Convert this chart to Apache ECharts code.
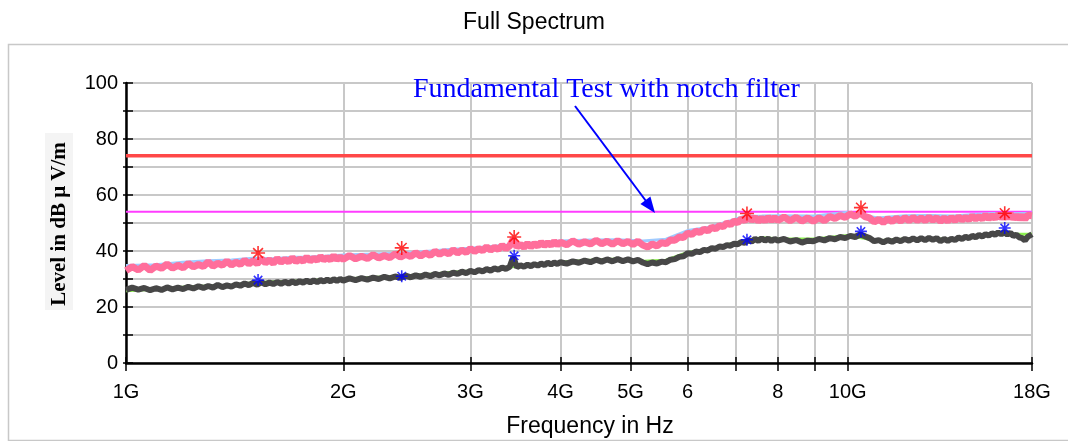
<!DOCTYPE html>
<html>
<head>
<meta charset="utf-8">
<script src="https://cdn.jsdelivr.net/npm/echarts@6/dist/echarts.min.js"></script>
<style>
  html, body { margin: 0; padding: 0; background: #ffffff; }
  #chart { width: 1068px; height: 441px; }
</style>
</head>
<body>
<div id="chart"></div>
<script>
// Sweep frequencies (MHz) of the measured traces
const freqMHz = [
  1000,1020,1040,1060,1080,1100,1120,1140,1160,1180,1200,1220,1240,1260,1280,1300,1320,1340,1360,1380,
  1400,1420,1440,1460,1480,1500,1520,1540,1560,1580,1600,1620,1640,1660,1680,1700,1720,1740,1760,1780,
  1800,1820,1840,1860,1880,1900,1920,1940,1960,1980,
  2000,2040,2080,2120,2160,2200,2240,2280,2320,2360,2400,2440,2480,2520,2560,2600,2640,2680,2720,2760,
  2800,2840,2880,2920,2960,3000,3040,3080,3120,3160,3200,3240,3280,3320,3360,3400,3440,3480,3520,3560,
  3600,3640,3680,3720,3760,3800,3840,3880,3920,3960,
  4000,4080,4160,4240,4320,4400,4480,4560,4640,4720,4800,4880,4960,5040,5120,5200,5280,5360,5440,5520,
  5600,5680,5760,5840,5920,6000,6080,6160,6240,6320,6400,6480,6560,6640,6720,6800,6880,6960,7040,7120,
  7200,7280,7360,7440,7520,7600,7680,7760,7840,7920,
  8000,8160,8320,8480,8640,8800,8960,9120,9280,9440,9600,9760,9920,10080,10240,10400,10560,10720,10880,11040,
  11200,11360,11520,11680,11840,12000,12160,12320,12480,12640,12800,12960,13120,13280,13440,13600,13760,13920,14080,14240,
  14400,14560,14720,14880,15040,15200,15360,15520,15680,15840,16000,16160,16320,16480,16640,16800,16960,17120,17280,17440,
  17600,17760,18000
];

// Peak detector trace (dBµV/m)
const peakLevel = [
  33.0,34.4,33.2,34.8,33.1,34.6,33.8,35.3,33.9,34.9,34.0,35.6,34.3,35.2,34.5,36.1,34.6,35.6,34.9,36.4,
  35.0,36.0,35.2,36.7,35.4,36.5,35.5,37.2,35.8,36.8,35.6,37.3,36.0,37.0,36.1,37.6,36.2,37.1,36.4,37.8,
  36.5,37.4,36.7,38.0,36.9,37.6,36.8,38.3,37.0,37.9,
  37.0,38.4,37.2,38.1,37.3,38.7,37.5,38.4,37.6,39.0,37.8,38.8,38.0,39.4,38.2,39.3,38.4,39.9,38.8,39.8,
  39.0,40.4,39.3,40.3,39.5,40.9,39.8,40.8,40.1,41.5,40.3,41.3,40.6,42.0,40.8,41.8,44.2,41.4,42.4,41.3,
  42.7,41.5,42.6,41.8,43.1,42.0,42.9,42.1,43.4,42.2,
  43.1,42.2,43.6,42.4,43.3,42.5,43.8,42.6,43.5,42.4,43.7,42.6,43.4,42.3,43.5,42.1,41.4,42.5,41.8,43.0,
  42.6,43.9,43.8,45.0,44.8,46.4,45.9,47.1,46.6,47.8,47.2,48.5,47.9,49.1,48.7,50.0,49.4,50.7,50.1,51.5,
  50.8,52.2,51.0,52.0,50.6,51.8,50.7,52.0,50.9,51.9,
  50.9,52.1,50.8,52.0,50.7,51.8,50.6,51.9,50.8,52.3,51.6,52.7,52.0,53.3,52.4,53.6,52.3,51.8,50.4,51.3,
  50.2,51.5,50.5,51.7,50.7,51.9,50.8,52.0,50.9,51.8,50.8,52.1,51.0,51.9,50.6,51.8,50.7,52.0,50.9,52.2,
  51.1,52.0,51.2,52.5,51.4,52.3,51.5,52.8,51.6,52.6,51.7,53.0,51.9,52.8,51.8,53.2,51.6,52.7,51.5,52.6,
  51.4,52.8,52.6
];

// Average detector trace (dBµV/m)
const avgLevel = [
  26.1,26.9,26.2,26.8,26.0,26.7,26.1,27.0,26.3,26.9,26.4,27.2,26.6,27.4,26.8,27.5,26.9,27.9,27.1,27.7,
  27.3,28.1,27.6,28.4,27.8,28.6,28.0,28.8,28.1,28.7,28.2,28.9,28.3,29.0,28.4,29.1,28.5,29.2,28.7,29.4,
  28.8,29.5,28.9,29.6,29.1,29.8,29.2,29.9,29.3,30.0,
  29.4,30.2,29.6,30.3,29.8,30.5,30.0,30.8,30.2,30.9,30.4,31.2,30.6,31.3,30.8,31.6,31.0,31.8,31.3,32.0,
  31.5,32.3,31.8,32.6,32.1,32.9,32.4,33.2,32.7,33.5,33.0,33.8,33.3,34.1,33.6,34.3,37.8,34.2,34.9,34.4,
  35.1,34.6,35.3,34.8,35.5,35.0,35.8,35.2,35.9,35.4,
  36.0,35.5,36.3,35.8,36.6,36.0,36.9,36.2,37.0,36.3,37.1,36.4,37.0,36.3,36.8,35.9,35.3,35.9,35.5,36.2,
  36.0,36.9,37.1,37.9,38.1,39.2,39.0,39.8,39.6,40.4,40.2,41.0,40.8,41.6,41.4,42.1,41.9,42.6,42.4,43.2,
  42.9,43.8,43.4,44.3,43.6,44.5,43.7,44.4,43.6,44.3,
  43.7,44.3,43.4,43.9,43.0,43.7,43.5,44.3,43.8,44.6,44.2,45.0,44.6,45.4,45.0,45.9,45.3,44.6,43.5,43.9,
  43.1,43.9,43.3,44.1,43.5,44.3,43.7,44.5,43.8,44.6,43.9,44.7,44.0,44.6,43.5,44.3,43.6,44.4,43.9,44.8,
  44.3,45.1,44.6,45.4,44.9,45.7,45.2,46.0,45.5,46.3,45.8,46.6,46.0,46.7,45.9,46.5,45.4,45.8,44.9,44.6,
  43.8,45.1,46.0
];

// Second pass traces, sampled coarser (MHz / dBµV/m)
const coarseFreqMHz = [1000,1100,1200,1300,1400,1500,1600,1700,1800,1900,2000,2200,2400,2600,2800,3000,3200,3400,3600,3800,
  4000,4400,4800,5200,5600,6000,6400,6800,7200,7600,8000,9000,10000,11000,12000,13000,14000,15000,16000,17000,18000];
const peakLevel2 = [34.8,35.1,36.0,36.5,36.8,37.4,37.2,37.8,37.9,38.2,38.6,38.9,39.2,39.8,40.5,41.0,41.6,42.1,42.7,43.1,
  43.6,43.9,44.0,43.6,44.2,47.3,48.4,50.4,52.4,52.5,52.6,52.5,53.8,51.8,52.6,52.7,52.5,53.0,53.4,53.3,53.5];
const avgLevel2 = [25.8,26.3,27.1,27.5,27.8,28.7,29.0,29.2,29.5,29.8,30.0,30.5,31.1,31.5,32.3,32.9,33.6,34.3,34.9,35.5,
  36.0,36.7,37.1,36.3,36.7,39.5,40.6,42.2,43.6,44.7,44.4,44.3,45.5,43.7,44.3,44.5,44.1,45.1,46.4,46.1,46.0];

// Final measurement points
const markFreqGHz = [1.524, 2.41, 3.45, 7.25, 10.43, 16.5];
const markPeak = [39.3, 41.1, 45.0, 53.4, 55.5, 53.5];
const markAvg = [29.6, 31.0, 38.3, 44.0, 47.0, 48.2];

// Limit lines (dBµV/m)
const peakLimit = 74;
const avgLimit = 54;

// Axis ticks
const xTickValues = [1, 2, 3, 4, 5, 6, 7, 8, 9, 10, 18];
const xLabelValues = [1, 2, 3, 4, 5, 6, 8, 10, 18];
const xLabelText = ['1G', '2G', '3G', '4G', '5G', '6', '8', '10G', '18G'];
const yMin = 0, yMax = 100, yStep = 10;

const zipMHz = (xs, ys) => xs.map((x, i) => [x / 1000, ys[i]]);
const zip = (xs, ys) => xs.map((x, i) => [x, ys[i]]);
const sansFont = "'Liberation Sans', Arial, sans-serif";
const starPath = 'path://M10,0L10,20M0,10L20,10M3,3L17,17M3,17L17,3';

function xLabel(v) {
  for (let i = 0; i < xLabelValues.length; i++) {
    if (Math.abs(v - xLabelValues[i]) < 1e-6 * xLabelValues[i]) return xLabelText[i];
  }
  return '';
}

const chart = echarts.init(document.getElementById('chart'), null, { renderer: 'canvas' });

chart.setOption({
  animation: false,
  backgroundColor: '#ffffff',
  title: {
    text: 'Full Spectrum',
    left: 'center',
    top: 6,
    textStyle: { fontFamily: sansFont, fontSize: 23, fontWeight: 'normal', color: '#000' }
  },
  grid: { left: 126, right: 36, top: 83, bottom: 78, containLabel: false },
  xAxis: [{
    type: 'log', logBase: 10, min: 1, max: 18,
    axisLine: { show: true, lineStyle: { color: '#000', width: 2.5 } },
    axisTick: { show: true, customValues: xTickValues, length: 8, lineStyle: { color: '#000', width: 1.5 } },
    axisLabel: { customValues: xLabelValues, formatter: xLabel, margin: 19, fontSize: 20, color: '#000', fontFamily: sansFont },
    splitLine: { show: true, lineStyle: { color: '#c8c8c8', width: 2 } }
  }, {
    type: 'log', logBase: 10, min: 1, max: 18, position: 'bottom',
    axisLine: { show: false },
    axisTick: { show: true, inside: true, customValues: xTickValues, length: 6, lineStyle: { color: '#000', width: 1.5 } },
    axisLabel: { show: false },
    splitLine: { show: false }
  }],
  yAxis: [{
    type: 'value', min: yMin, max: yMax, interval: yStep,
    axisLine: { show: true, lineStyle: { color: '#000', width: 2.5 } },
    axisTick: { show: true, length: 3, lineStyle: { color: '#000', width: 1.5 } },
    axisLabel: {
      formatter: v => (v % 20 === 0 ? String(v) : ''),
      margin: 8, fontSize: 20, color: '#000', fontFamily: sansFont
    },
    splitLine: { show: true, lineStyle: { color: '#c8c8c8', width: 2 } }
  }, {
    type: 'value', min: yMin, max: yMax, interval: yStep, position: 'left',
    axisLine: { show: false },
    axisTick: { show: true, inside: true, length: 7, lineStyle: { color: '#000', width: 1.5 } },
    axisLabel: { show: false },
    splitLine: { show: false }
  }],
  series: [
    {
      name: 'Peak limit', type: 'line', showSymbol: false, silent: true, z: 2,
      data: [[1, peakLimit], [18, peakLimit]],
      lineStyle: { color: '#ff4848', width: 3.5 }
    },
    {
      name: 'Average limit', type: 'line', showSymbol: false, silent: true, z: 2,
      data: [[1, avgLimit], [18, avgLimit]],
      lineStyle: { color: '#ff3cff', width: 2 }
    },
    {
      name: 'Peak (2)', type: 'line', showSymbol: false, silent: true, z: 3,
      data: zipMHz(coarseFreqMHz, peakLevel2),
      lineStyle: { color: '#9fcbff', width: 3 }
    },
    {
      name: 'Average (2)', type: 'line', showSymbol: false, silent: true, z: 3,
      data: zipMHz(coarseFreqMHz, avgLevel2),
      lineStyle: { color: '#8cf050', width: 3 }
    },
    {
      name: 'Peak', type: 'line', showSymbol: false, silent: true, z: 4,
      data: zipMHz(freqMHz, peakLevel),
      lineStyle: { color: '#ff6e9b', width: 7, join: 'bevel' }
    },
    {
      name: 'Average', type: 'line', showSymbol: false, silent: true, z: 4,
      data: zipMHz(freqMHz, avgLevel),
      lineStyle: { color: '#474747', width: 6, join: 'bevel' }
    },
    {
      name: 'Peak final', type: 'scatter', z: 6, symbol: starPath, symbolSize: 14,
      data: zip(markFreqGHz, markPeak),
      itemStyle: { color: 'rgba(0,0,0,0)', borderColor: '#ff0000', borderWidth: 1.6 }
    },
    {
      name: 'Average final', type: 'scatter', z: 6, symbol: starPath, symbolSize: 12,
      data: zip(markFreqGHz, markAvg),
      itemStyle: { color: 'rgba(0,0,0,0)', borderColor: '#0000ff', borderWidth: 1.6 }
    }
  ],
  graphic: [
    // frame around the plot region
    {
      type: 'rect', silent: true, z: -1,
      shape: { x: 8.5, y: 44.5, width: 1070, height: 396 },
      style: { fill: 'none', stroke: '#c8c8c8', lineWidth: 1.5 }
    },
    // y axis title on its shaded panel
    {
      type: 'rect', silent: true, z: 1,
      shape: { x: 45, y: 133, width: 28, height: 177 },
      style: { fill: '#f4f4f4' }
    },
    {
      type: 'text', silent: true, z: 2, x: 60, y: 224, rotation: Math.PI / 2,
      style: { text: 'Level in dB μ V/m', font: "bold 21px 'Liberation Serif', 'Times New Roman', serif", fill: '#000', align: 'center', verticalAlign: 'middle' }
    },
    // x axis title
    {
      type: 'text', silent: true, z: 2, x: 590, y: 427,
      style: { text: 'Frequency in Hz', font: "23px 'Liberation Sans', Arial, sans-serif", fill: '#000', align: 'center', verticalAlign: 'middle' }
    },
    // annotation with arrow
    {
      type: 'text', silent: true, z: 10, x: 413, y: 90,
      style: { text: 'Fundamental Test with notch filter', font: "28px 'Liberation Serif', 'Times New Roman', serif", fill: '#0000ff', align: 'left', verticalAlign: 'middle' }
    },
    {
      type: 'line', silent: true, z: 10,
      shape: { x1: 575, y1: 106, x2: 646, y2: 201 },
      style: { stroke: '#0000ff', lineWidth: 2 }
    },
    {
      type: 'polygon', silent: true, z: 10,
      shape: { points: [[655, 213], [640.4, 204.0], [650.4, 196.4]] },
      style: { fill: '#0000ff' }
    }
  ]
});
</script>
</body>
</html>
